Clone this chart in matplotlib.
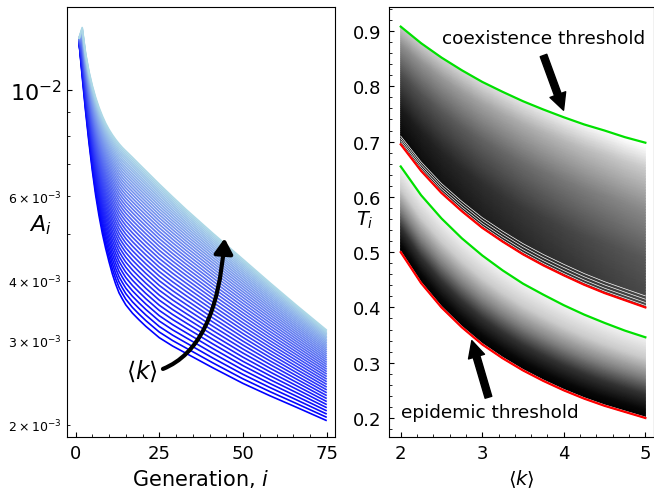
import numpy as np
import matplotlib
matplotlib.use("Agg")
import matplotlib.pyplot as plt
from matplotlib.ticker import AutoMinorLocator
from matplotlib.colors import LinearSegmentedColormap

# ---------------- Left panel data ----------------
generation = np.array([1, 2, 3, 4, 5, 6, 7, 8, 9, 10, 11, 12, 13, 14, 15, 17, 19, 21,
                       25, 29, 33, 41, 50, 58, 66, 75])
# lowest <k> curve (dark blue) and highest <k> curve (light blue), in units of 1e-3
A_low_k = np.array([12.7, 10.66, 9.04, 7.78, 6.80, 6.04, 5.47, 5.02, 4.67, 4.38, 4.13,
                    3.93, 3.77, 3.66, 3.56, 3.42, 3.31, 3.21, 3.04, 2.92, 2.82, 2.63,
                    2.44, 2.30, 2.175, 2.04]) * 1e-3
A_high_k = np.array([12.8, 13.5, 11.95, 10.95, 10.22, 9.65, 9.2, 8.83, 8.52, 8.27, 8.06,
                     7.88, 7.72, 7.58, 7.46, 7.23, 7.0, 6.78, 6.36, 5.98, 5.63, 5.02,
                     4.43, 3.96, 3.55, 3.15]) * 1e-3
k_values = np.linspace(2, 5, 41)          # one curve per <k>

# ---------------- Right panel data ----------------
k_axis = np.array([2.0, 2.25, 2.5, 2.75, 3.0, 3.25, 3.5, 3.75, 4.0, 4.25, 4.5, 4.75, 5.0])
epi_red = np.array([0.500, 0.444, 0.400, 0.364, 0.333, 0.308, 0.286, 0.267,
                    0.250, 0.235, 0.222, 0.211, 0.200])
epi_green = np.array([0.655, 0.603, 0.561, 0.525, 0.494, 0.467, 0.443, 0.423,
                      0.404, 0.387, 0.372, 0.358, 0.346])
coex_red = np.array([0.695, 0.647, 0.607, 0.574, 0.544, 0.519, 0.496, 0.476,
                     0.458, 0.441, 0.426, 0.413, 0.400])
coex_green = np.array([0.908, 0.878, 0.852, 0.829, 0.808, 0.790, 0.773, 0.758,
                       0.744, 0.731, 0.720, 0.708, 0.698])

W, H = 654, 489
fig = plt.figure(figsize=(W / 100, H / 100), dpi=100)

def pos(x0, x1, y0, y1):
    return [x0 / W, 1 - y1 / H, (x1 - x0) / W, (y1 - y0) / H]

ax1 = fig.add_axes(pos(66.7, 334.7, 8, 438))
ax2 = fig.add_axes(pos(389.3, 653.5, 8, 438))

# ---------------- Left panel ----------------
cmap_blue = LinearSegmentedColormap.from_list("bl", ["#0000ff", "#add8e6"])
t = (k_values - k_values.min()) / (k_values.max() - k_values.min())
w = (t - 0.325 * t ** 2) / 0.675
for ti, wi in zip(t, w):
    A_line = np.exp(np.log(A_low_k) * (1 - wi) + np.log(A_high_k) * wi)
    ax1.plot(generation, A_line, color=cmap_blue(ti), lw=1.2, solid_capstyle="butt")

ax1.set_yscale("log")
ax1.set_xlim(-2.63, 77.37)
ax1.set_ylim(1.886e-3, 1.49e-2)
ax1.set_xticks([0, 25, 50, 75])
ax1.xaxis.set_minor_locator(AutoMinorLocator(5))
ax1.tick_params(which="both", direction="in")
ax1.tick_params(axis="x", which="major", labelsize=13, pad=5)
ax1.tick_params(axis="y", which="major", labelsize=16)
ax1.tick_params(axis="y", which="minor", labelsize=9)
ax1.set_xlabel("Generation, $i$", fontsize=15)
ax1.set_ylabel("$A_i$", fontsize=16, rotation=0, ha="center", va="center")
ax1.yaxis.set_label_coords(-0.0996, 0.495)

ax1.annotate("", xy=(44.5, 4.9e-3), xytext=(26.1, 2.616e-3),
             arrowprops=dict(arrowstyle="-|>,head_length=0.45,head_width=0.28",
                             connectionstyle="angle3,angleA=22,angleB=86",
                             lw=3, color="black", mutation_scale=20,
                             shrinkA=0, shrinkB=0))
ax1.text(19.8, 2.594e-3, r"$\langle k\rangle$", fontsize=17, ha="center", va="center")

# ---------------- Right panel ----------------
nu = 60
u = np.linspace(0, 1, nu)
X = np.tile(k_axis, (nu, 1))
kk = (k_axis - 2) / 3

# coexistence band shading
Yc = coex_red[None, :] + u[:, None] * (coex_green - coex_red)[None, :]
Cc = np.interp(u, [0, 0.1, 0.3, 0.6, 0.85, 1.0], [0.03, 0.04, 0.1, 0.3, 0.55, 0.78])[:, None] \
    + 0.25 * kk[None, :]
Cc = np.clip(Cc, 0, 1)
ax2.pcolormesh(X, Yc, Cc, shading="gouraud", cmap="gray", vmin=0, vmax=1, zorder=1)

# epidemic band shading
Ye = epi_red[None, :] + u[:, None] * (epi_green - epi_red)[None, :]
Ce = np.interp(u, [0, 0.1, 0.3, 0.5, 0.75, 1.0], [0.0, 0.03, 0.2, 0.5, 0.8, 0.95])[:, None] \
    + 0.0 * kk[None, :]
ax2.pcolormesh(X, Ye, Ce, shading="gouraud", cmap="gray", vmin=0, vmax=1, zorder=1)

# thin gaps near the converging edge of the bands
for uf in [0.012, 0.03, 0.05, 0.07]:
    ax2.plot(k_axis, coex_red + uf * (coex_green - coex_red), color="white", lw=0.5, zorder=2)
ax2.plot(k_axis, epi_red + 0.012 * (epi_green - epi_red), color="white", lw=0.5, zorder=2)

ax2.plot(k_axis, epi_red, color="red", lw=1.6, zorder=3)
ax2.plot(k_axis, coex_red, color="red", lw=1.6, zorder=3)
ax2.plot(k_axis, epi_green, color="#00e000", lw=1.6, zorder=3)
ax2.plot(k_axis, coex_green, color="#00e000", lw=1.6, zorder=3)

ax2.set_xlim(1.86, 5.1)
ax2.set_ylim(0.1656, 0.9435)
ax2.set_xticks([2, 3, 4, 5])
ax2.xaxis.set_minor_locator(AutoMinorLocator(5))
ax2.yaxis.set_minor_locator(AutoMinorLocator(5))
ax2.tick_params(which="both", direction="in")
ax2.tick_params(axis="both", which="major", labelsize=13)
ax2.tick_params(axis="x", which="major", pad=5)
ax2.tick_params(axis="y", which="major", pad=6)
ax2.set_xlabel(r"$\langle k\rangle$", fontsize=14)
ax2.set_ylabel("$T_i$", fontsize=14, rotation=0, ha="center", va="center")
ax2.yaxis.set_label_coords(-0.092, 0.507)

ax2.text(3.751, 0.8866, "coexistence threshold", fontsize=13.3, ha="center", va="center")
ax2.annotate("", xy=(3.997, 0.7567), xytext=(3.751, 0.8558),
             arrowprops=dict(facecolor="black", edgecolor="black", width=5,
                             headwidth=12, headlength=12, shrink=0))
ax2.text(3.097, 0.2103, "epidemic threshold", fontsize=13.3, ha="center", va="center")
ax2.annotate("", xy=(2.872, 0.340), xytext=(3.076, 0.2375),
             arrowprops=dict(facecolor="black", edgecolor="black", width=5,
                             headwidth=12, headlength=12, shrink=0))

fig.savefig("out.png", dpi=100)
